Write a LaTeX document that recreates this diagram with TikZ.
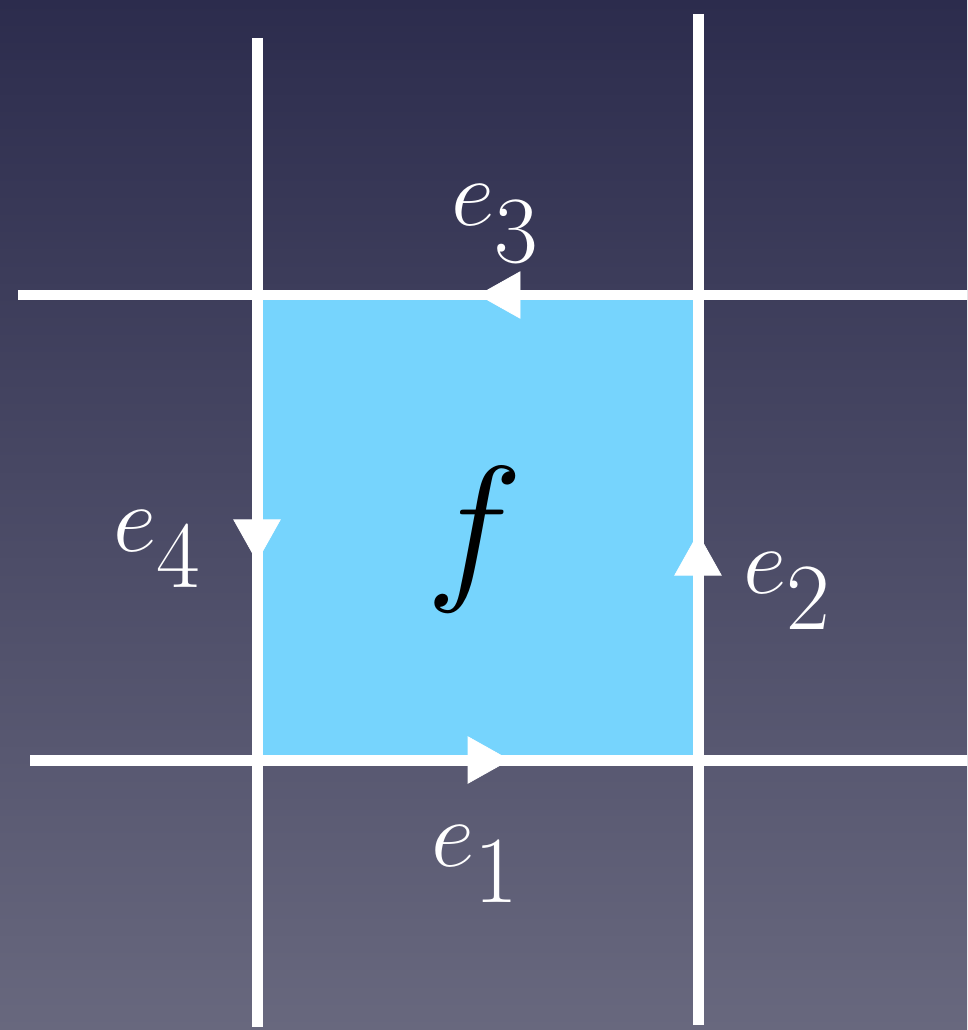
\RequirePackage{fix-cm}
\documentclass[tikz,border=0pt]{standalone}
\usetikzlibrary{arrows.meta,decorations.markings}
\definecolor{bgtop}{RGB}{44,44,77}
\definecolor{bgbot}{RGB}{104,104,126}
\definecolor{facecyan}{RGB}{118,212,253}
\newcommand{\edgelabel}[1]{$e$\raisebox{-0.38em}{#1}}
\tikzset{
  gridline/.style={draw=white, line width=0.22cm},
  edgemark/.style={
    postaction={decorate},
    decoration={markings,
      mark=at position #1 with {\arrow[white]{Triangle[length=0.85cm, width=0.95cm]}}}
  },
  elabel/.style={
    text=white, inner sep=0pt, anchor=base west,
    font=\fontsize{54pt}{64pt}\selectfont
  },
  facelabel/.style={
    text=black, inner sep=0pt, anchor=base,
    font=\fontsize{93pt}{110pt}\selectfont
  }
}

\begin{document}
\begin{tikzpicture}[x=0.02cm, y=-0.02cm]
  % Background
  \useasboundingbox (0,0) rectangle (967,1030);
  \shade[top color=bgtop, bottom color=bgbot] (0,0) rectangle (967,1030);

  % Face
  \fill[facecyan] (262,300) rectangle (693,755);

  % Grid end points
  \coordinate (vlt) at (257,38);
  \coordinate (vlb) at (257,1027);
  \coordinate (vrt) at (698,14);
  \coordinate (vrb) at (698,1025);
  \coordinate (htl) at (18,295);
  \coordinate (htr) at (967,295);
  \coordinate (hbl) at (30,760);
  \coordinate (hbr) at (967,760);

  % Corners of the face
  \coordinate (ctl) at (257,295);
  \coordinate (ctr) at (698,295);
  \coordinate (cbr) at (698,760);
  \coordinate (cbl) at (257,760);

  % Grid lines
  \draw[gridline] (vlt) -- (vlb);
  \draw[gridline] (vrt) -- (vrb);
  \draw[gridline] (htl) -- (htr);
  \draw[gridline] (hbl) -- (hbr);

  % Edge orientations
  \path[edgemark=0.574] (cbl) -- (cbr);
  \path[edgemark=0.488] (cbr) -- (ctr);
  \path[edgemark=0.499] (ctr) -- (ctl);
  \path[edgemark=0.574] (ctl) -- (cbl);

  % Labels
  \node[elabel] (e1) at (431,866) {\edgelabel{1}};
  \node[elabel] (e2) at (743,593) {\edgelabel{2}};
  \node[elabel] (e3) at (451,226) {\edgelabel{3}};
  \node[elabel] (e4) at (113,551) {\edgelabel{4}};
  \node[facelabel] (f) at (475,580) {$f$};
\end{tikzpicture}
\end{document}
